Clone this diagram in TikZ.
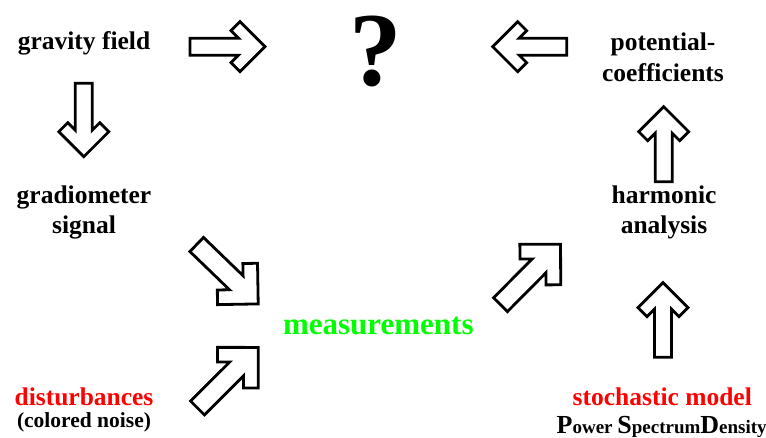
\documentclass[tikz,border=0pt]{standalone}
\usepackage{fontspec}
\setmainfont{LiberationSerif}[Extension=.ttf, UprightFont=*-Regular, BoldFont=*-Bold,
  ItalicFont=*-Italic, BoldItalicFont=*-BoldItalic]
\usepackage{xcolor}
\usetikzlibrary{calc}

\definecolor{measgreen}{RGB}{0,255,0}
\definecolor{modelred}{RGB}{255,0,0}

% large initial letter inside a smaller line
\newcommand\biginit[1]{{\fontsize{26}{30}\selectfont #1}}

% outlined block arrow from #2 to #3, #1 = size factor
\newcommand\blockarrow[3][1]{%
  \draw[barrow] let \p1=(#2), \p2=(#3),
    \n1={atan2(\y2-\y1,\x2-\x1)}, \n2={veclen(\x2-\x1,\y2-\y1)},
    \n3={8.5pt*#1}, \n4={25pt*#1}, \n5={9pt*#1} in
    {[shift={(\p1)}, rotate=\n1]
     (0pt,\n3) -- (\n2-2*\n5-\n3,\n3) -- (\n2-\n4-\n5,\n4-\n5)
     -- (\n2-\n4,\n4) -- (\n2,0pt) -- (\n2-\n4,-\n4)
     -- (\n2-\n4-\n5,\n5-\n4) -- (\n2-2*\n5-\n3,-\n3)
     -- (0pt,-\n3) -- cycle};
}

\begin{document}
\begin{tikzpicture}[
  x=1pt, y=-1pt,
  txt/.style={anchor=base, inner sep=0pt, font=\fontsize{25.5}{30}\bfseries\selectfont},
  small/.style={anchor=base, inner sep=0pt, font=\fontsize{21.5}{26}\bfseries\selectfont},
  barrow/.style={draw=black, fill=white, line width=2.8pt, line join=miter},
]
\useasboundingbox (0,0) rectangle (766,438);

% left column
\node[txt] (grav) at (84,50) {gravity field};
\node[txt] (grad1) at (84,204) {gradiometer};
\node[txt] (grad2) at (84,234) {signal};
\node[txt, text=modelred] (dist) at (84,406) {disturbances};
\node[small] (noise) at (84,427) {(colored noise)};

% middle
\node[anchor=base, inner sep=0pt, font=\fontsize{105}{110}\bfseries\selectfont] (quest) at (375.5,86) {?};
\node[anchor=base, inner sep=0pt, font=\fontsize{31}{36}\bfseries\selectfont, text=measgreen] (meas) at (378.3,335) {measurements};

% right column
\node[txt] (pot1) at (663,51) {potential-};
\node[txt] (pot2) at (663,82) {coefficients};
\node[txt] (harm1) at (664,203.5) {harmonic};
\node[txt] (harm2) at (664,234) {analysis};
\node[txt, text=modelred] (stoch) at (662.3,406) {stochastic model};
\node[anchor=base, inner sep=0pt, font=\fontsize{19}{24}\bfseries\selectfont] (psd) at (661.7,433.3)
  {\biginit{P}ower \biginit{S}pectrum\biginit{D}ensity};

% arrow ends
\coordinate (gq-a) at (190,46.7);    \coordinate (gq-b) at (265,46.7);
\coordinate (pq-a) at (566.7,46.7);  \coordinate (pq-b) at (492.7,46.7);
\coordinate (gg-a) at (83.8,83.3);   \coordinate (gg-b) at (83.8,156.7);
\coordinate (hp-a) at (663.7,181.7); \coordinate (hp-b) at (663.7,106.7);
\coordinate (sh-a) at (663,357.3);   \coordinate (sh-b) at (663,282.7);
\coordinate (gm-a) at (196.7,244.5); \coordinate (gm-b) at (258.3,304);
\coordinate (dm-a) at (197.5,408);   \coordinate (dm-b) at (258.3,347.3);
\coordinate (mh-a) at (500.5,304.7); \coordinate (mh-b) at (560.7,244);

\blockarrow{gq-a}{gq-b}
\blockarrow{pq-a}{pq-b}
\blockarrow{gg-a}{gg-b}
\blockarrow{hp-a}{hp-b}
\blockarrow{sh-a}{sh-b}
\blockarrow[1.15]{gm-a}{gm-b}
\blockarrow[1.15]{dm-a}{dm-b}
\blockarrow[1.15]{mh-a}{mh-b}

\end{tikzpicture}
\end{document}
